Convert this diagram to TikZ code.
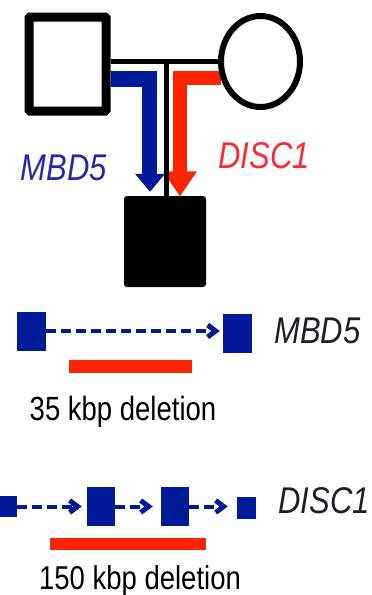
\documentclass[tikz,border=0pt]{standalone}
\usepackage{fontspec}
\setmainfont{Liberation Sans}
\usepackage{graphicx}
\usetikzlibrary{shapes.geometric,arrows.meta,calc}
\definecolor{gblue}{RGB}{0,26,153}
\definecolor{gred}{RGB}{255,36,0}
\definecolor{lblue}{RGB}{40,40,170}
\definecolor{lred}{RGB}{255,40,50}
\definecolor{ltext}{RGB}{30,30,35}
\pgfdeclarelayer{bg}
\pgfsetlayers{bg,main}
\begin{document}
\begin{tikzpicture}[x=1pt,y=-1pt,
  parent/.style={draw=black,fill=white,inner sep=0pt},
  exon/.style={fill=gblue,draw=none,inner sep=0pt},
  delbar/.style={fill=gred,draw=none,inner sep=0pt},
  intron/.style={draw=gblue,line width=4pt,dash pattern=on 10pt off 5pt,
    -{Straight Barb[length=8pt,width=12pt,line width=5pt]}},
  genelabel/.style={anchor=base,inner sep=0pt,font=\fontsize{31pt}{31pt}\selectfont\itshape},
  deltext/.style={anchor=base,inner sep=0pt,text=black,font=\fontsize{27.5pt}{27.5pt}\selectfont}]
\useasboundingbox (0,0) rectangle (372,595);
% pedigree
\node[parent,line width=9pt,minimum width=77pt,minimum height=94pt,rounded corners=1pt] (father) at (67.5,64) {};
\node[parent,ellipse,line width=6pt,minimum width=79pt,minimum height=91pt] (mother) at (260.5,61.5) {};
\node[fill=black,inner sep=0pt,minimum width=82pt,minimum height=91pt,rounded corners=3pt] (child) at (165,241.5) {};
\coordinate (mline) at (166.5,61);
\draw[line width=5pt] (father.east |- mline) -- (mother.west |- mline);
\draw[line width=5pt] (mline) -- (child.north -| mline);
\begin{pgfonlayer}{bg}
  \draw[gblue,line width=15.5pt] ($(father.east)+(0,15)$) -| ($(child.north)+(-15.5,-21)$);
  \fill[gblue] ($(child.north)+(-30,-22)$) -- ($(child.north)+(0,-22)$) -- ($(child.north)+(-15,-4)$) -- cycle;
  \draw[gred,line width=14.5pt] ($(mother.west)+(3,16.5)$) -| ($(child.north)+(15,-24)$);
  \fill[gred] ($(child.north)+(-2,-24.5)$) -- ($(child.north)+(32,-24.5)$) -- ($(child.north)+(15,0.5)$) -- cycle;
\end{pgfonlayer}
\node[genelabel,text=lblue] (lmbd) at (64,180) {\scalebox{1}[1.2]{MBD5}};
\node[genelabel,text=lred] (ldisc) at (264,168) {\scalebox{1}[1.2]{DISC1}};
% MBD5 gene
\node[exon,minimum width=29pt,minimum height=39pt] (m1) at (31.5,331) {};
\node[exon,minimum width=29pt,minimum height=39pt] (m2) at (237.5,333.5) {};
\draw[intron,shorten >=3pt] (m1.east) -- (m1.east -| m2.west);
\node[genelabel,text=ltext] (gmbd) at (317.5,343) {\scalebox{1}[1.2]{MBD5}};
\node[delbar,minimum width=123pt,minimum height=13pt] (del1) at (130.5,366.5) {};
\node[deltext] (t1) at (123,420) {\scalebox{1}[1.22]{35 kbp deletion}};
% DISC1 gene
\node[exon,minimum width=17pt,minimum height=21pt] (d1) at (8.5,506.5) {};
\node[exon,minimum width=28pt,minimum height=39pt] (d2) at (101,506.5) {};
\node[exon,minimum width=28pt,minimum height=39pt] (d3) at (175,506.5) {};
\node[exon,minimum width=19pt,minimum height=22pt] (d4) at (246.5,508) {};
\draw[intron,shorten >=5pt] (d1.east) -- (d2.west);
\draw[intron,shorten >=8pt] (d2.east) -- (d3.west);
\draw[intron,shorten >=9pt] (d3.east) -- (d3.east -| d4.west);
\node[genelabel,text=ltext] (gdisc) at (324,513) {\scalebox{1}[1.2]{DISC1}};
\node[delbar,minimum width=156pt,minimum height=12pt] (del2) at (128,544) {};
\node[deltext] (t2) at (140,589) {\scalebox{1}[1.2]{150 kbp deletion}};
\end{tikzpicture}
\end{document}
